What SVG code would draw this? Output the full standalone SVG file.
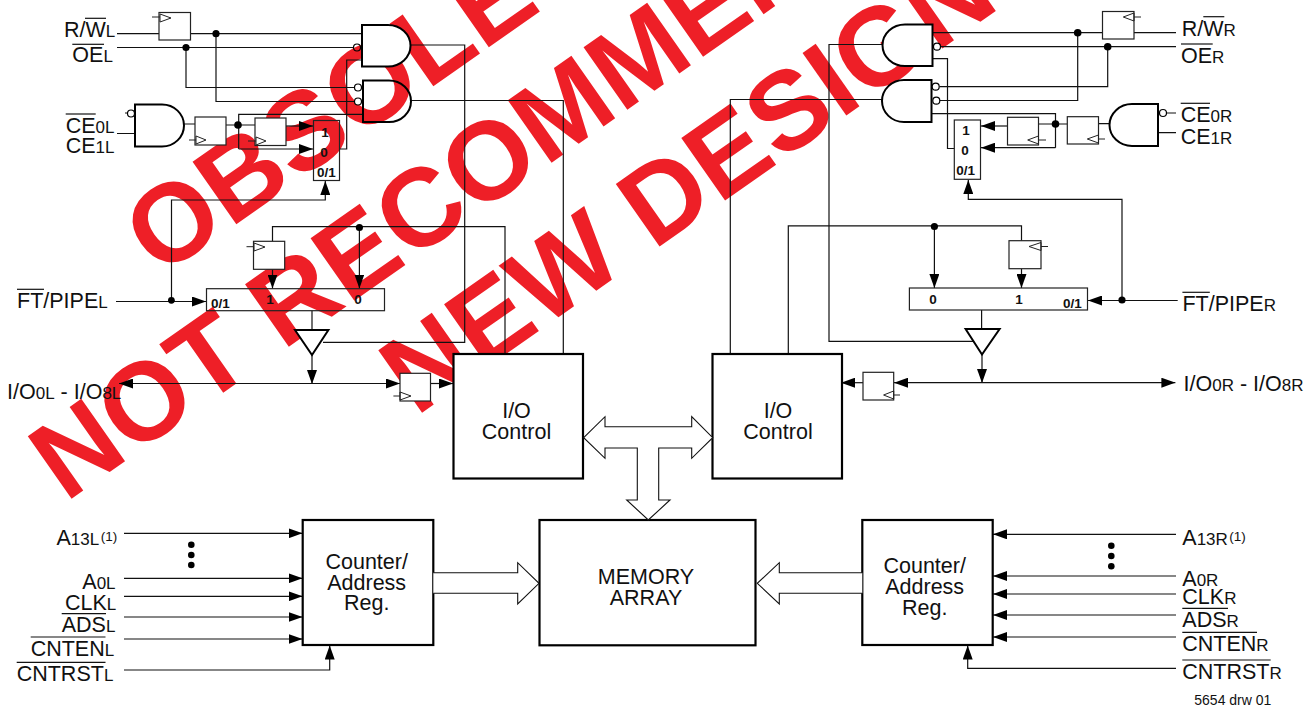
<svg xmlns="http://www.w3.org/2000/svg" width="1312" height="706" viewBox="0 0 1312 706">
<style>
text{font-family:"Liberation Sans",Arial,sans-serif;fill:#111}
.lb{font-size:21.5px}
.s{font-size:17px}
.sup{font-size:13.5px}
.c{font-size:21.5px;text-anchor:middle}
.b{font-size:13.5px;font-weight:bold;text-anchor:middle}
.wm{font-size:111px;font-weight:bold;fill:#ee1f27}
.w{fill:none;stroke:#111;stroke-width:1.2}
.a{fill:none;stroke:#111;stroke-width:1.2;marker-end:url(#ah)}
.ov{stroke:#111;stroke-width:1.2}
.ff{fill:#fff;stroke:#222;stroke-width:1.2}
.clk{fill:none;stroke:#222;stroke-width:1}
.mux{fill:none;stroke:#222;stroke-width:1.2}
.gw{fill:#fff;stroke:#000;stroke-width:2}
.gn{fill:none;stroke:#000;stroke-width:2}
.bub{fill:#fff;stroke:#000;stroke-width:1.2}
.bubn{fill:none;stroke:#000;stroke-width:1.2}
.box{fill:#fff;stroke:#000;stroke-width:2.2}
.bus{fill:#fff;stroke:#111;stroke-width:1.1}
.d{fill:#000}
</style>
<defs>
<marker id="ah" markerUnits="userSpaceOnUse" markerWidth="14" markerHeight="10" refX="14" refY="5" orient="auto"><path d="M0 0L14 5L0 10Z" fill="#000"/></marker>
</defs>
<g id="watermark">
<text class="wm" transform="translate(159.5,278) rotate(-35)">OBSOLETE</text>
<text class="wm" transform="translate(65.5,503) rotate(-35)">NOT RECOMMENDED FOR</text>
<text class="wm" transform="translate(416,417) rotate(-35)">NEW DESIGNS</text>
</g>
<g id="connectors">
<path class="w" d="M117 33.7H159M190 33.7H362M117 47.5H353.5M186 47.5V87.5H354.5M216 33.7V101.5H354.5"/>
<path class="w" d="M125 113H128M117 133.5H135M184 124H195M226 125H255"/>
<path class="w" d="M363 114.3H238.7V149M339.5 149H346.7V60H362"/>
<path class="a" d="M286 126H313"/>
<path class="a" d="M238.7 149H313"/>
<path class="a" d="M171.5 300.5V200H325.3V181"/>
<path class="a" d="M116 301.5H206"/>
<path class="w" d="M272.5 241.3V226.7H505V354"/>
<path class="a" d="M359.4 226.7V288.5"/>
<path class="a" d="M272.5 269.3V288.5"/>
<path class="w" d="M312 310.7V330"/>
<path class="a" d="M312 355V384"/>
<path class="w" d="M410.5 45H464.7V342.3H323"/>
<path class="w" d="M411 100.5H563.3V354"/>
<path class="a" d="M312 383.5H119"/>
<path class="a" d="M312 383.5H400"/>
<path class="a" d="M430.5 383.5H453"/>
<path class="w" d="M1134 32.7H1176M1102.5 32.7H932.5M1176 46.7H940.5M1107.7 46.7V86.7H939.5M1077.7 32.7V100.5H940"/>
<path class="w" d="M1166.5 113H1176M1158 132.7H1176M1098.5 123.7H1110M1038.5 124H1067.3"/>
<path class="w" d="M932 58.7H947.5V148.5H954.3"/>
<path class="w" d="M931.5 113.7H1055.5V147.7"/>
<path class="a" d="M1055.5 147.7H981"/>
<path class="a" d="M1007.5 126H981"/>
<path class="a" d="M1122 300.5V199.3H968.3V180"/>
<path class="a" d="M1177.7 300.5H1088"/>
<path class="w" d="M1021.5 240.7V225.9H788.3V354"/>
<path class="a" d="M934.4 225.9V288"/>
<path class="a" d="M1021.5 268.7V288"/>
<path class="w" d="M981.6 310V329"/>
<path class="a" d="M982 354.5V383"/>
<path class="w" d="M882 44.5H829V341.3H973"/>
<path class="w" d="M882 99.5H730.3V354"/>
<path class="a" d="M982 382.7H1175.4"/>
<path class="a" d="M982 382.7H894"/>
<path class="a" d="M863 382.7H841"/>
<path class="a" d="M124 533.3H302.5"/>
<path class="a" d="M124 578.3H302.5"/>
<path class="a" d="M124 596.3H302.5"/>
<path class="a" d="M124 617H302.5"/>
<path class="a" d="M124 639H302.5"/>
<path class="a" d="M124 670H329.7V645.5"/>
<path class="a" d="M1176 534.3H993"/>
<path class="a" d="M1176 576H993"/>
<path class="a" d="M1176 594H993"/>
<path class="a" d="M1176 615H993"/>
<path class="a" d="M1176 637H993"/>
<path class="a" d="M1176 668.3H967.7V645.5"/>
<g class="d">
<circle cx="216" cy="33.7" r="3.6"/><circle cx="186" cy="47.5" r="3.6"/><circle cx="238" cy="125" r="3.8"/>
<circle cx="171.4" cy="300.3" r="3.4"/><circle cx="359.4" cy="227.5" r="3.6"/>
<circle cx="1077.7" cy="32.7" r="3.8"/><circle cx="1107.7" cy="46.7" r="3.8"/><circle cx="1055.5" cy="124" r="3.8"/>
<circle cx="1122" cy="300" r="3.6"/><circle cx="934.4" cy="226.5" r="3.6"/>
</g>
</g>
<g id="left-rw-ff"><rect class="ff" x="159" y="12.5" width="31.5" height="27.5"/><path class="clk" d="M152 17H160M160 14L171 18L160 22Z"/></g>
<g id="left-and-top"><path class="gw" d="M362 25H388A22.5 20.75 0 0 1 388 66.5H362Z"/><circle class="bubn" cx="357" cy="47.5" r="3.5"/></g>
<g id="left-and-bottom"><path class="gn" d="M363 80.5H389A22 20.75 0 0 1 389 122H363Z"/><circle class="bub" cx="358" cy="87.5" r="3.5"/><circle class="bub" cx="358" cy="101.5" r="3.5"/></g>
<g id="left-ce-and"><path class="gw" d="M135 104.5H162A22 21 0 0 1 162 146.5H135Z"/><circle class="bub" cx="131" cy="113.5" r="3.5"/></g>
<g id="left-ce-ff1"><rect class="ff" x="195" y="117" width="31" height="28"/><path class="clk" d="M189 140H196M196 136L206 140L196 144Z"/></g>
<g id="left-ce-ff2"><rect class="ff" x="255" y="118" width="31" height="27.5"/><path class="clk" d="M248 141H256M256 137L266 141L256 145Z"/></g>
<g id="left-ce-mux"><rect class="mux" x="313.5" y="120.5" width="26" height="60"/><text class="b" x="325" y="137.3">1</text><text class="b" x="324" y="157.3">0</text><text class="b" x="326.5" y="177.3">0/1</text></g>
<g id="left-pipe-ff"><rect class="ff" x="253.5" y="241.3" width="31.2" height="28"/><path class="clk" d="M246.5 246.7H254M254 243L265 247L254 251Z"/></g>
<g id="left-pipe-mux"><rect class="mux" x="206.5" y="288.7" width="178" height="22"/><text class="b" x="220.5" y="308">0/1</text><text class="b" x="270" y="304">1</text><text class="b" x="358" y="304">0</text></g>
<g id="left-buffer"><path class="gw" d="M295 330H328.4L312 355Z"/></g>
<g id="left-io-ff"><rect class="ff" x="400" y="373.3" width="30.5" height="27.7"/><path class="clk" d="M393.4 396H400M400 392L411 396L400 400Z"/></g>
<g id="left-io-control"><rect class="box" x="453.5" y="354" width="129.5" height="124.5"/><text class="c" x="516.5" y="417.7">I/O</text><text class="c" x="516.5" y="438.5">Control</text></g>
<g id="right-rw-ff"><rect class="ff" x="1102.5" y="11.5" width="31.5" height="27.5"/><path class="clk" d="M1134 17H1141M1134 13L1123.3 17L1134 21Z"/></g>
<g id="right-and-top"><path class="gw" d="M932.5 24.5H905A22.5 20.75 0 0 0 905 66H932.5Z"/><circle class="bubn" cx="937" cy="46.7" r="3.5"/></g>
<g id="right-and-bottom"><path class="gw" d="M931.5 80H904A22 21 0 0 0 904 122H931.5Z"/><circle class="bub" cx="935.7" cy="86.7" r="3.5"/><circle class="bub" cx="936.3" cy="100.7" r="3.5"/></g>
<g id="right-ce-and"><path class="gw" d="M1158 104H1132A22.5 21 0 0 0 1132 146H1158Z"/><circle class="bub" cx="1163" cy="113" r="3.5"/></g>
<g id="right-ce-ff1"><rect class="ff" x="1067.3" y="116.7" width="31.2" height="27.3"/><path class="clk" d="M1098.5 139H1105M1098.5 135L1087.3 139L1098.5 143Z"/></g>
<g id="right-ce-ff2"><rect class="ff" x="1007.5" y="117.3" width="31" height="27.7"/><path class="clk" d="M1038.5 140H1046M1038.5 136L1027.7 140L1038.5 144Z"/></g>
<g id="right-ce-mux"><rect class="mux" x="954.3" y="120" width="26.2" height="59.3"/><text class="b" x="966" y="135">1</text><text class="b" x="965" y="155">0</text><text class="b" x="965.7" y="175">0/1</text></g>
<g id="right-pipe-ff"><rect class="ff" x="1009" y="240.7" width="32" height="28"/><path class="clk" d="M1041 246.5H1048M1041 242.5L1029 246.5L1041 250.5Z"/></g>
<g id="right-pipe-mux"><rect class="mux" x="909.4" y="288" width="178.1" height="22"/><text class="b" x="933" y="304">0</text><text class="b" x="1019" y="304">1</text><text class="b" x="1072.5" y="307.7">0/1</text></g>
<g id="right-buffer"><path class="gw" d="M965.6 329H999.6L982 354.5Z"/></g>
<g id="right-io-ff"><rect class="ff" x="863" y="372.3" width="30.7" height="27.7"/><path class="clk" d="M893.7 395H900M893.7 391L883.6 395L893.7 399Z"/></g>
<g id="right-io-control"><rect class="box" x="712.5" y="354" width="129.5" height="124.5"/><text class="c" x="778" y="417.7">I/O</text><text class="c" x="778" y="438.5">Control</text></g>
<g id="memory-array"><rect class="box" x="539.5" y="520" width="216" height="125.3"/><text class="c" x="646" y="584">MEMORY</text><text class="c" x="646" y="604.7">ARRAY</text></g>
<g id="left-counter"><rect class="box" x="302.7" y="520" width="130.6" height="125"/><text class="c" x="366.7" y="569">Counter/</text><text class="c" x="366.7" y="589.5">Address</text><text class="c" x="366.7" y="610">Reg.</text></g>
<g id="right-counter"><rect class="box" x="862.3" y="520" width="130.4" height="125"/><text class="c" x="924.7" y="573.3">Counter/</text><text class="c" x="924.7" y="594">Address</text><text class="c" x="924.7" y="615">Reg.</text></g>
<g id="buses">
<path class="bus" d="M583.7 437.7L605 416.7V426.7H691.7V416.7L712.7 437.7L691.7 458.3V448H658.7V500H670L648.3 520L626.7 500H637.3V448H605V458.3Z"/>
<path class="bus" d="M433.3 572.7H517.7V562.7L539 583.3L517.7 604V593.3H433.3"/>
<path class="bus" d="M862.3 572.7H779.3V562.7L757.3 583.3L779.3 604V593.3H862.3"/>
</g>
<g id="ellipsis-left" class="d"><circle cx="191.3" cy="544.7" r="3.3"/><circle cx="191.3" cy="555" r="3.3"/><circle cx="191.3" cy="565" r="3.3"/></g>
<g id="ellipsis-right" class="d"><circle cx="1111.3" cy="545.7" r="3.3"/><circle cx="1111.3" cy="556" r="3.3"/><circle cx="1111.3" cy="566.3" r="3.3"/></g>
<g id="labels">
<text class="lb" x="64" y="36.7">R/W<tspan class="s">L</tspan></text><line class="ov" x1="85" y1="18.3" x2="106" y2="18.3"/>
<text class="lb" x="72.3" y="62.3">OE<tspan class="s">L</tspan></text><line class="ov" x1="72.3" y1="44.3" x2="104" y2="44.3"/>
<text class="lb" x="65.7" y="132.7">CE<tspan class="s">0L</tspan></text><line class="ov" x1="65.7" y1="114" x2="95.7" y2="114"/>
<text class="lb" x="65.7" y="152.7">CE<tspan class="s">1L</tspan></text>
<text class="lb" x="17" y="308.3">FT/PIPE<tspan class="s">L</tspan></text><line class="ov" x1="17" y1="289.3" x2="44" y2="289.3"/>
<text class="lb" x="7" y="399.3">I/O<tspan class="s">0L</tspan> - I/O<tspan class="s">8L</tspan></text>
<text class="lb" x="56.5" y="545">A<tspan class="s">13L</tspan><tspan class="sup" dx="1.5" dy="-4.3">(1)</tspan></text>
<text class="lb" x="82.3" y="589.3">A<tspan class="s">0L</tspan></text>
<text class="lb" x="65" y="610">CLK<tspan class="s">L</tspan></text>
<text class="lb" x="61.7" y="631.7">ADS<tspan class="s">L</tspan></text><line class="ov" x1="61.7" y1="613.7" x2="106" y2="613.7"/>
<text class="lb" x="30.7" y="655.7">CNTEN<tspan class="s">L</tspan></text><line class="ov" x1="30.7" y1="637" x2="105.5" y2="637"/>
<text class="lb" x="16.7" y="680.7">CNTRST<tspan class="s">L</tspan></text><line class="ov" x1="16.7" y1="662.3" x2="105.5" y2="662.3"/>
<text class="lb" x="1181.7" y="35.7">R/W<tspan class="s">R</tspan></text><line class="ov" x1="1203.3" y1="16.7" x2="1224.3" y2="16.7"/>
<text class="lb" x="1181" y="62.7">OE<tspan class="s">R</tspan></text><line class="ov" x1="1181" y1="44" x2="1212.7" y2="44"/>
<text class="lb" x="1180.7" y="121.7">CE<tspan class="s">0R</tspan></text><line class="ov" x1="1180.7" y1="103.3" x2="1210" y2="103.3"/>
<text class="lb" x="1180.7" y="144">CE<tspan class="s">1R</tspan></text>
<text class="lb" x="1182.4" y="310.7">FT/PIPE<tspan class="s">R</tspan></text><line class="ov" x1="1182.4" y1="292.3" x2="1209.8" y2="292.3"/>
<text class="lb" x="1183.6" y="391">I/O<tspan class="s">0R</tspan> - I/O<tspan class="s">8R</tspan></text>
<text class="lb" x="1182.3" y="545">A<tspan class="s">13R</tspan><tspan class="sup" dx="1.5" dy="-4.3">(1)</tspan></text>
<text class="lb" x="1182.3" y="586">A<tspan class="s">0R</tspan></text>
<text class="lb" x="1182.3" y="604">CLK<tspan class="s">R</tspan></text>
<text class="lb" x="1182.3" y="626.7">ADS<tspan class="s">R</tspan></text><line class="ov" x1="1182.3" y1="608.3" x2="1228" y2="608.3"/>
<text class="lb" x="1182.3" y="651">CNTEN<tspan class="s">R</tspan></text><line class="ov" x1="1182.3" y1="632.3" x2="1257" y2="632.3"/>
<text class="lb" x="1182.3" y="678.7">CNTRST<tspan class="s">R</tspan></text><line class="ov" x1="1182.3" y1="660" x2="1270.7" y2="660"/>
<text x="1194.3" y="705" font-size="14">5654 drw 01</text>
</g>
</svg>
